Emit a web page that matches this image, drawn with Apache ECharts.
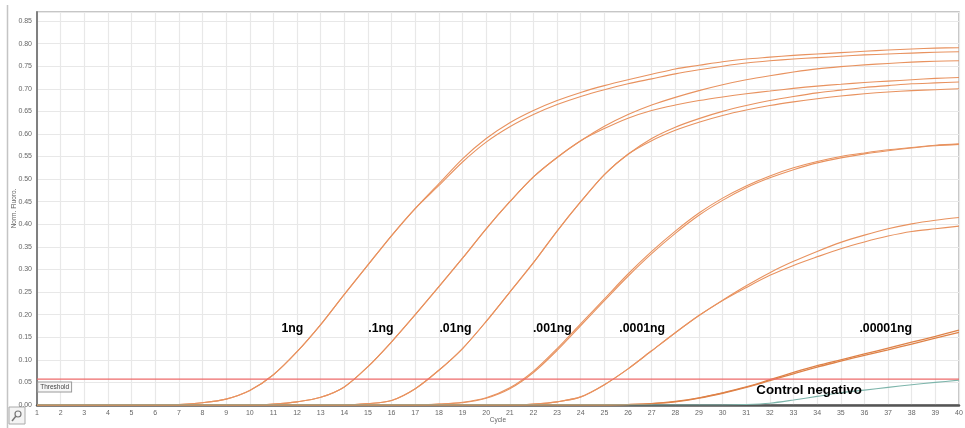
<!DOCTYPE html>
<html><head><meta charset="utf-8">
<script src="https://cdn.jsdelivr.net/npm/echarts/dist/echarts.min.js"></script>
<style>html,body{margin:0;padding:0;background:#fff}#c{width:965px;height:428px}</style>
</head><body><div id="c"></div>
<script>
const cycles = [1,2,3,4,5,6,7,8,9,10,11,12,13,14,15,16,17,18,19,20,21,22,23,24,25,26,27,28,29,30,31,32,33,34,35,36,37,38,39,40];
const yTicks = [0,0.05,0.1,0.15,0.2,0.25,0.3,0.35,0.4,0.45,0.5,0.55,0.6,0.65,0.7,0.75,0.8,0.85];

const ng1_a = [0,0,0,0,0,0,0.001,0.005,0.013,0.032,0.067,0.118,0.178,0.245,0.31,0.375,0.435,0.49,0.545,0.59,0.625,0.652,0.674,0.692,0.707,0.72,0.732,0.744,0.752,0.76,0.766,0.77,0.774,0.777,0.78,0.783,0.786,0.788,0.79,0.791];
const ng1_b = [0,0,0,0,0,0,0.001,0.005,0.013,0.032,0.067,0.118,0.178,0.245,0.31,0.375,0.435,0.486,0.538,0.582,0.616,0.643,0.665,0.683,0.698,0.711,0.722,0.733,0.742,0.75,0.757,0.762,0.766,0.769,0.772,0.775,0.777,0.779,0.781,0.782];
const ng01_a = [0,0,0,0,0,0,0,0,0,0,0.002,0.007,0.017,0.04,0.085,0.14,0.2,0.262,0.325,0.39,0.45,0.505,0.548,0.585,0.617,0.643,0.664,0.681,0.696,0.709,0.72,0.729,0.737,0.744,0.749,0.753,0.756,0.759,0.761,0.762];
const ng01_b = [0,0,0,0,0,0,0,0,0,0,0.002,0.007,0.017,0.04,0.085,0.14,0.2,0.262,0.325,0.39,0.45,0.505,0.548,0.585,0.612,0.635,0.652,0.664,0.674,0.682,0.689,0.695,0.701,0.706,0.71,0.714,0.717,0.72,0.723,0.725];
const ng001_a = [0,0,0,0,0,0,0,0,0,0,0,0,0,0,0.003,0.01,0.036,0.077,0.125,0.185,0.25,0.315,0.385,0.45,0.51,0.555,0.59,0.615,0.634,0.65,0.663,0.674,0.683,0.691,0.697,0.703,0.707,0.711,0.713,0.715];
const ng001_b = [0,0,0,0,0,0,0,0,0,0,0,0,0,0,0.003,0.01,0.036,0.077,0.125,0.185,0.25,0.315,0.385,0.45,0.51,0.555,0.585,0.608,0.626,0.641,0.653,0.663,0.671,0.678,0.684,0.689,0.693,0.696,0.698,0.7];
const ng0001_a = [0,0,0,0,0,0,0,0,0,0,0,0,0,0,0,0,0,0.002,0.006,0.016,0.038,0.075,0.125,0.18,0.235,0.29,0.34,0.385,0.425,0.458,0.485,0.507,0.525,0.539,0.55,0.558,0.565,0.57,0.575,0.578];
const ng0001_b = [0,0,0,0,0,0,0,0,0,0,0,0,0,0,0,0,0,0.002,0.005,0.015,0.036,0.072,0.121,0.176,0.231,0.285,0.335,0.38,0.42,0.453,0.481,0.503,0.521,0.536,0.547,0.556,0.563,0.569,0.574,0.577];
const ng00001_a = [0,0,0,0,0,0,0,0,0,0,0,0,0,0,0,0,0,0,0,0,0,0.002,0.007,0.018,0.045,0.08,0.12,0.16,0.198,0.232,0.264,0.293,0.318,0.34,0.36,0.376,0.39,0.401,0.409,0.415];
const ng00001_b = [0,0,0,0,0,0,0,0,0,0,0,0,0,0,0,0,0,0,0,0,0,0.002,0.007,0.018,0.045,0.08,0.12,0.16,0.198,0.231,0.26,0.287,0.309,0.328,0.346,0.361,0.374,0.384,0.39,0.396];
const ng000001_a = [0,0,0,0,0,0,0,0,0,0,0,0,0,0,0,0,0,0,0,0,0,0,0,0,0,0.001,0.003,0.008,0.016,0.027,0.04,0.056,0.072,0.087,0.1,0.113,0.126,0.139,0.152,0.166];
const ng000001_b = [0,0,0,0,0,0,0,0,0,0,0,0,0,0,0,0,0,0,0,0,0,0,0,0,0,0.001,0.003,0.007,0.015,0.026,0.039,0.054,0.069,0.084,0.097,0.11,0.122,0.135,0.148,0.161];
const controlNeg = [0,0,0,0,0,0,0,0,0,0,0,0,0,0,0,0,0,0,0,0,0,0,0,0,0,0,0,0,0,0,0.001,0.004,0.011,0.019,0.027,0.033,0.039,0.045,0.05,0.055];

const thresholdValue = 0.0575;

const labelTexts = ['1ng', '.1ng', '.01ng', '.001ng', '.0001ng', '.00001ng'];
const labelCycles = [11.8, 15.55, 18.7, 22.8, 26.6, 36.9];
const labelValues = [0.17, 0.17, 0.17, 0.17, 0.17, 0.17];
const controlLabel = 'Control negativo';
const controlLabelCycle = 33.66;
const controlLabelValue = 0.033;

const sampleSeries = [ng1_a, ng1_b, ng01_a, ng01_b, ng001_a, ng001_b, ng0001_a, ng0001_b, ng00001_a, ng00001_b, ng000001_a, ng000001_b];

const FONT = 'Liberation Sans, Arial, sans-serif';
const series = [];
sampleSeries.forEach((arr, i) => {
  const late = i >= 10;
  series.push({
    type: 'line', data: cycles.map((c, k) => [c, arr[k]]),
    symbol: 'none', smooth: 0.3, silent: true,
    itemStyle: { color: late ? '#de8248' : '#e8925f' },
    lineStyle: { color: late ? '#de8248' : '#e8925f', width: late ? 1.3 : 1.1 }, z: 3
  });
});
series.push({
  type: 'line', data: cycles.map((c, k) => [c, controlNeg[k]]),
  symbol: 'none', smooth: 0.3, silent: true,
  itemStyle: { color: '#7db5ab' },
  lineStyle: { color: '#7db5ab', width: 1.1 }, z: 3
});
series.push({
  type: 'line', data: [[cycles[0], thresholdValue], [cycles[cycles.length - 1], thresholdValue]],
  symbol: 'none', silent: true,
  itemStyle: { color: '#ee6b6b' },
  lineStyle: { color: '#ee6b6b', width: 1.2 }, z: 4
});
series.push({
  type: 'scatter', symbolSize: 0, silent: true, z: 5,
  itemStyle: { color: '#999', opacity: 1 },
  data: [[1.05, 0.04]],
  label: { show: true, position: 'right', distance: 0, formatter: 'Threshold', opacity: 1,
    fontSize: 6.5, color: '#444', fontFamily: FONT, textBorderWidth: 0,
    borderColor: '#9a9a9a', borderWidth: 1, padding: [1, 2], backgroundColor: '#f7f7f7' }
});
series.push({
  type: 'scatter', symbolSize: 0, silent: true, z: 6,
  itemStyle: { color: '#000', opacity: 1 },
  data: labelTexts.map((t, i) => ({ value: [labelCycles[i], labelValues[i]], name: t }))
    .concat([{ value: [controlLabelCycle, controlLabelValue], name: controlLabel,
      label: { fontSize: 13.3 } }]),
  label: { show: true, position: 'inside', formatter: p => p.name, opacity: 1,
    fontSize: 12.3, fontWeight: 'bold', color: '#000', fontFamily: FONT,
    textBorderWidth: 0, textBorderColor: 'transparent' }
});

const chart = echarts.init(document.getElementById('c'), null, { renderer: 'canvas' });
chart.setOption({
  animation: false,
  backgroundColor: '#ffffff',
  grid: { left: 37, right: 6, top: 12, bottom: 23, outerBoundsMode: 'none', containLabel: false,
    show: true, borderColor: '#b4b4b4', borderWidth: 1.5, backgroundColor: 'transparent' },
  xAxis: {
    type: 'value', min: cycles[0], max: cycles[cycles.length - 1], interval: 1,
    axisLine: { show: true, onZero: false, lineStyle: { color: '#555', width: 2.5 } },
    axisTick: { show: false },
    axisLabel: { fontSize: 7, color: '#666', margin: 5, fontFamily: FONT },
    splitLine: { show: true, lineStyle: { color: '#e8e8e8', width: 1.2 } },
    name: 'Cycle', nameLocation: 'middle', nameGap: 12, nameMoveOverlap: false,
    nameTextStyle: { fontSize: 6.5, color: '#666', fontFamily: FONT }
  },
  yAxis: {
    type: 'value', min: yTicks[0], max: 0.87, interval: 0.05,
    axisLine: { show: true, lineStyle: { color: '#808080', width: 2 } },
    axisTick: { show: false },
    axisLabel: { fontSize: 7, color: '#666', margin: 5, fontFamily: FONT,
      showMaxLabel: false,
      formatter: v => (v > yTicks[yTicks.length - 1] + 0.001 ? '' : v.toFixed(2)) },
    splitLine: { show: true, lineStyle: { color: '#e8e8e8', width: 1.2 } },
    name: 'Norm. Fluoro.', nameLocation: 'middle', nameGap: 19, nameRotate: 90, nameMoveOverlap: false,
    nameTextStyle: { fontSize: 6.5, color: '#666', fontFamily: FONT }
  },
  graphic: [
    { type: 'line', shape: { x1: 7.5, y1: 5, x2: 7.5, y2: 428 }, style: { stroke: '#c4c4c4', lineWidth: 1.5 }, silent: true },
    { type: 'rect', shape: { x: 9, y: 407, width: 16, height: 17 }, style: { fill: '#f4f4f4', stroke: '#aaa', lineWidth: 1 }, silent: true },
    { type: 'circle', shape: { cx: 18, cy: 414, r: 3 }, style: { fill: 'none', stroke: '#777', lineWidth: 1.2 }, silent: true },
    { type: 'line', shape: { x1: 16, y1: 416, x2: 12, y2: 421 }, style: { stroke: '#777', lineWidth: 1.5 }, silent: true }
  ],
  series: series
});
</script>
</body></html>
